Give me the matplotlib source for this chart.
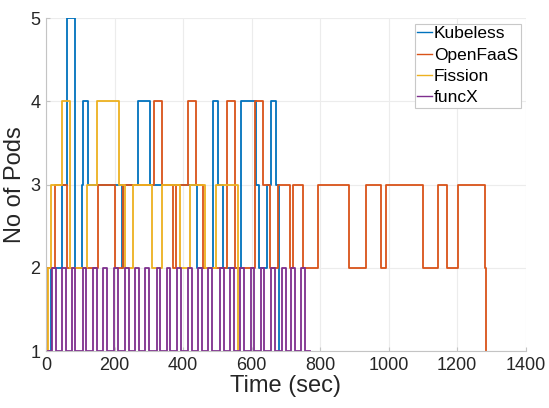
import matplotlib
matplotlib.use('Agg')
from matplotlib import pyplot as plt

# step data (time in sec, number of pods)
kubeless_t = [2, 16, 46, 60, 85, 104, 109, 124, 221, 226, 269, 304, 441, 486, 503, 516, 569, 612, 623, 644, 657, 671, 681]
kubeless_v = [1, 2, 3, 5, 2, 3, 4, 3, 2, 3, 4, 3, 2, 4, 3, 2, 4, 3, 2, 3, 4, 3, 1]

openfaas_t = [1, 2, 26, 60, 153, 201, 226, 316, 338, 372, 379, 415, 438, 459, 527, 551, 610, 632, 654, 678,
              712, 722, 749, 795, 883, 934, 978, 993, 1101, 1145, 1170, 1202, 1281, 1284]
openfaas_v = [1, 2, 3, 2, 3, 2, 3, 4, 3, 2, 3, 4, 3, 2, 4, 2, 4, 3, 2, 3,
              2, 3, 2, 3, 2, 3, 2, 3, 2, 3, 2, 3, 2, 1]

fission_t = [2, 5, 16, 46, 70, 119, 148, 213, 231, 255, 308, 338, 391, 420, 464, 496, 561]
fission_v = [1, 2, 3, 4, 2, 3, 4, 3, 2, 3, 2, 3, 2, 3, 2, 3, 1]

funcx_t = [3, 17, 28, 46, 57, 75, 86, 107, 118, 138, 149, 167, 178, 199, 210, 231, 242, 260, 271,
           289, 300, 323, 334, 352, 363, 383, 394, 415, 426, 444, 455, 473, 485, 508, 519, 537, 548,
           566, 577, 597, 608, 626, 637, 656, 667, 688, 699, 715, 726, 745, 756, 770]
funcx_v = [1, 2, 1, 2, 1, 2, 1, 2, 1, 2, 1, 2, 1, 2, 1, 2, 1, 2, 1,
           2, 1, 2, 1, 2, 1, 2, 1, 2, 1, 2, 1, 2, 1, 2, 1, 2, 1,
           2, 1, 2, 1, 2, 1, 2, 1, 2, 1, 2, 1, 2, 1, 1]

plt.rcParams['font.family'] = ['Liberation Sans', 'DejaVu Sans']

fig = plt.figure(figsize=(5.49, 4.08), dpi=100)
ax = fig.add_axes([0.0838, 0.1397, 0.8738, 0.8154])

lw = 1.3
ax.step(kubeless_t, kubeless_v, where='post', color='#0072BD', lw=lw, label='Kubeless')
ax.step(openfaas_t, openfaas_v, where='post', color='#D95319', lw=lw, label='OpenFaaS')
ax.step(fission_t, fission_v, where='post', color='#EDB120', lw=lw, label='Fission')
ax.step(funcx_t, funcx_v, where='post', color='#7E2F8E', lw=lw, label='funcX')

ax.set_xlim(0, 1400)
ax.set_ylim(1, 5)
ax.set_xticks(range(0, 1401, 200))
ax.set_yticks([1, 2, 3, 4, 5])
ax.grid(True, color='#ececec', lw=0.8)
ax.set_axisbelow(True)
for s in ax.spines.values():
    s.set_color('#c4c4c4')
    s.set_linewidth(0.8)
ax.spines['top'].set_visible(False)
ax.spines['right'].set_visible(False)
ax.tick_params(direction='in', length=3, color='#c4c4c4', labelsize=13, labelcolor='#262626', pad=4)

ax.set_xlabel('Time (sec)', fontsize=17, color='#262626', labelpad=1)
ax.set_ylabel('No of Pods', fontsize=17, color='#262626', labelpad=3)

leg = ax.legend(loc='upper right', fontsize=12.5, handlelength=0.85, handletextpad=0.1,
                borderpad=0.15, labelspacing=0.36, borderaxespad=0.3, fancybox=False, framealpha=1)
leg.get_frame().set_edgecolor('#c8c8c8')
leg.get_frame().set_linewidth(0.8)
for h in leg.get_lines():
    h.set_linewidth(1.0)

fig.savefig('out.png', dpi=100)
